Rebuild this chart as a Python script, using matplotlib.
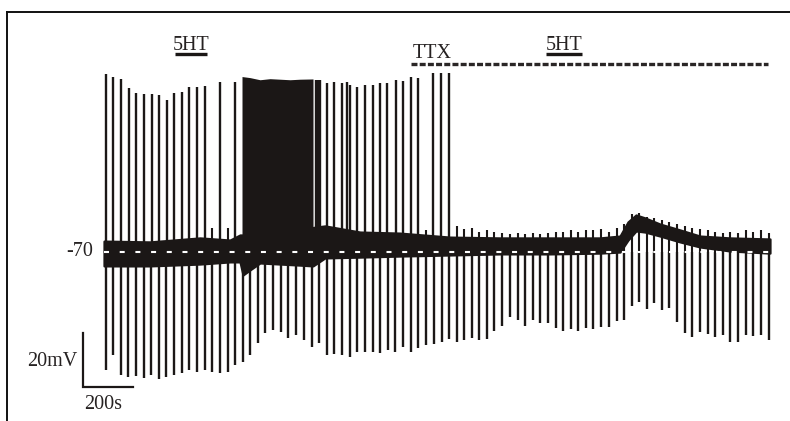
import matplotlib
matplotlib.use("Agg")
import matplotlib.pyplot as plt
from matplotlib.lines import Line2D

# ---------------- data (time in s, potential in mV) ----------------
pulse_t = [8, 35, 67, 97, 128, 159, 188, 219, 249, 280, 311, 341, 372, 403, 433, 464, 495, 524,
           555, 584, 615, 645, 676, 707, 737, 768, 800, 831, 861,
           891, 921, 952, 984, 1013, 1044, 1075, 1105, 1136,
           1164, 1195, 1227, 1257, 1288, 1319, 1351, 1380, 1411, 1440,
           1471, 1501, 1531, 1561, 1593, 1624, 1655, 1684, 1715, 1745,
           1776, 1807, 1836, 1867, 1897, 1928, 1957, 1988, 2019, 2051,
           2080, 2111, 2141, 2171, 2201, 2232, 2261, 2293, 2323, 2353,
           2384, 2415, 2445, 2475, 2505, 2536, 2567, 2597, 2629, 2660]
pulse_trough = [-114.6, -108.8, -116.3, -116.9, -116.5, -117.4, -116.3, -117.8, -116.9, -116.3,
                -115.5, -114.4, -115.0, -114.4, -115.0, -115.5, -115.0, -112.5, -111.3, -108.8,
                -104.3, -100.5, -99.4, -100.0, -102.4, -101.3, -103.1, -105.7, -104.3,
                -108.8, -108.5, -108.8, -109.4, -107.8, -107.8, -107.8, -107.9, -106.9,
                -107.5, -105.7, -107.5, -106.3, -105.0, -104.6, -103.8, -102.9, -103.8, -103.1,
                -102.5, -103.1, -102.9, -99.7, -97.9, -94.6, -95.7, -97.9, -95.7, -96.9,
                -96.7, -98.8, -99.7, -99.1, -99.7, -98.8, -99.1, -98.2, -98.4, -95.9,
                -95.7, -90.4, -88.8, -91.6, -89.2, -91.9, -91.3, -96.3, -100.4, -101.9,
                -100.0, -100.9, -101.9, -101.3, -103.8, -103.8, -101.3, -101.6, -101.3, -103.1]

spike_t = [8, 35, 68, 99, 128, 160, 191, 220, 251, 281, 312, 341, 371, 403, 464, 525,
           849, 856, 863,
           891, 921, 951, 971, 984, 1013, 1044, 1075, 1104, 1133, 1167, 1197, 1227, 1257,
           1317, 1348, 1379]
spike_peak = [-3.4, -4.5, -5.3, -8.7, -10.4, -10.9, -10.9, -11.3, -13.2, -10.4, -10.1, -8.3,
              -8.3, -7.8, -6.4, -6.4,
              -5.6, -5.7, -5.6,
              -6.9, -6.6, -6.8, -6.3, -7.6, -8.2, -7.6, -7.4, -6.9, -6.7, -5.7, -6.0, -4.7, -5.1,
              -3.0, -3.0, -3.0]

blip_t = [433, 495, 1288,
          1411, 1440, 1471, 1501, 1531, 1561, 1593, 1624, 1655, 1684, 1715, 1745,
          1776, 1807, 1836, 1867, 1897, 1928, 1957, 1988, 2019, 2051,
          2080, 2111, 2141, 2171, 2201, 2232, 2261, 2293, 2323, 2353,
          2384, 2415, 2445, 2475, 2505, 2536, 2567, 2597, 2629, 2660]
blip_peak = [-61.0, -61.0, -62.0,
             -60.5, -61.5, -61.0, -62.5, -62.0, -62.5, -63.0, -63.5, -63.0, -63.5, -63.0, -63.5,
             -63.0, -62.5, -62.5, -62.0, -62.5, -62.0, -62.0, -61.5, -62.5, -61.0,
             -59.5, -56.0, -55.5, -57.0, -57.5, -58.0, -59.0, -59.5, -60.5, -61.0,
             -61.5, -62.0, -62.5, -63.0, -62.5, -63.0, -62.0, -62.5, -62.0, -63.0]

band_t = [0, 184, 384, 504, 544, 556, 584, 624, 784, 836, 884, 1024, 1184, 1384,
          1584, 1784, 1984, 2064, 2096, 2128, 2164, 2224, 2304, 2384, 2504, 2664]
band_top = [-66.1, -66.4, -64.9, -65.7, -63.8, -63.8, -63.0, -63.0, -63.0, -61.0, -60.4,
            -62.7, -63.1, -64.6, -64.9, -64.9, -64.9, -64.2, -58.9, -56.3, -57.4, -59.7,
            -61.9, -64.2, -64.9, -65.3]
band_bot = [-75.4, -75.4, -74.7, -73.9, -73.9, -78.8, -76.9, -74.3, -75.1, -75.4, -72.4,
            -72.1, -71.7, -71.3, -70.9, -70.9, -70.6, -70.2, -65.7, -62.3, -62.7, -64.2,
            -66.4, -68.3, -69.8, -70.6]

burst_t = [552, 584, 624, 664, 704, 744, 784, 836]
burst_top = [-4.4, -4.8, -5.6, -5.2, -5.4, -5.6, -5.4, -5.3]

rest_mv = -70
trace_span = [0, 2664]
ht_periods = [(284, 411), (1768, 1911)]
ttx_period = (1227, 2657)
scale_mv = 20
scale_s = 200

# ---------------- figure ----------------
plt.rcParams['lines.scale_dashes'] = False
W, H, DPI = 790, 421, 100
fig = plt.figure(figsize=(W / DPI, H / DPI), dpi=DPI)
ax = fig.add_axes([0, 0, 1, 1])
ax.set_xlim(-416, 2744)
ax.set_ylim(-133.55, 24.3)
ax.axis('off')

ink = '#1b1716'
txt = '#262222'
font = dict(family=['Liberation Serif', 'DejaVu Serif'], size=14.5, color=txt)

# baseline noise band
ax.fill_between(band_t, band_bot, band_top, color=ink, lw=1.6, edgecolor=ink, zorder=2)
# hyperpolarising pulses
ax.vlines(pulse_t, rest_mv, pulse_trough, color=ink, lw=1.7, zorder=3)
# action potentials
ax.vlines(spike_t, rest_mv, spike_peak, color=ink, lw=1.7, zorder=3)
# small blips
ax.vlines(blip_t, rest_mv, blip_peak, color=ink, lw=1.5, zorder=3)
# burst block
ax.fill_between(burst_t, rest_mv, burst_top, color=ink, lw=0, zorder=3)

# white dashed -70 reference
ax.plot(trace_span, [rest_mv, rest_mv], color='white', lw=1.5,
        dashes=(3.6, 7.7), zorder=6)
ax.text(trace_span[0] - 44, rest_mv, '-70', ha='right', va='center', **font)

# drug bars
for a, b in ht_periods:
    ax.plot([a, b], [4.0, 4.0], color=ink, lw=2.4, solid_capstyle='butt', zorder=4)
    ax.text((a + b) / 2, 5.6, '5HT', ha='center', va='baseline', **font)
ax.plot(list(ttx_period), [0.2, 0.2], color='#2a2626', lw=2.4, dashes=(4.3, 1.6), zorder=4)
ax.text(ttx_period[0] + 87, 2.6, 'TTX', ha='center', va='baseline', **font)

# scale bars
sx, sy = -85, -120.7
ax.plot([sx, sx, sx + scale_s], [sy + scale_mv, sy, sy], color=ink, lw=1.6,
        solid_joinstyle='miter', zorder=4)
ax.text(sx - 22, sy + 9.5, '20mV', ha='right', va='center', **font)
ax.text(sx + 5, sy - 3.0, '200s', ha='left', va='top', **font)

# frame (left and top edges)
fig.add_artist(Line2D([7 / W, 7 / W], [0, 1 - 12 / H], transform=fig.transFigure,
                      color='#111', lw=1.4))
fig.add_artist(Line2D([7 / W, 1], [1 - 12 / H, 1 - 12 / H], transform=fig.transFigure,
                      color='#111', lw=1.4))

fig.savefig('out.png', dpi=DPI, facecolor='white')
